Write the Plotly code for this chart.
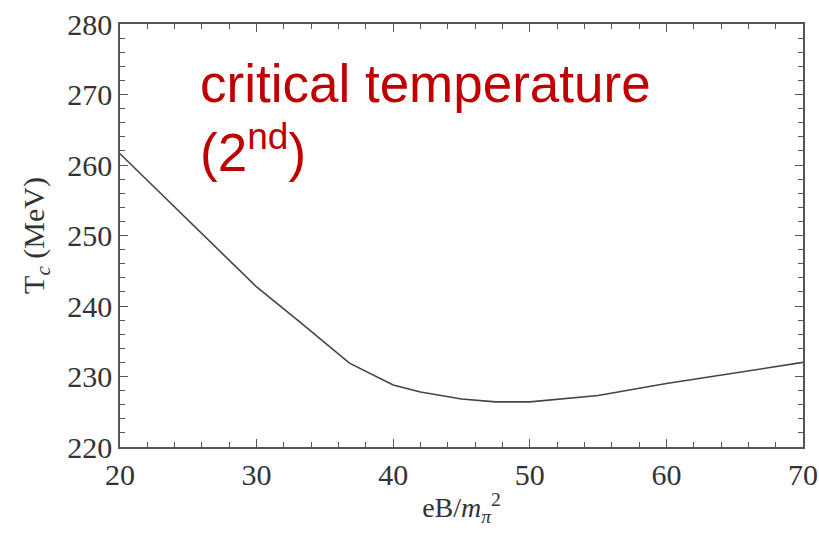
import plotly.graph_objects as go

eB = [20, 25, 30, 33, 36.8, 40, 42, 45, 47.5, 50, 52.5, 55, 60, 65, 70]
Tc = [261.6, 252.2, 242.7, 238.0, 231.9, 228.8, 227.8, 226.8, 226.4, 226.4, 226.8, 227.3, 229.0, 230.5, 232.0]

x_ticks = [20, 30, 40, 50, 60, 70]
y_ticks = [220, 230, 240, 250, 260, 270, 280]

fig = go.Figure()
fig.add_trace(go.Scatter(x=eB, y=Tc, mode="lines",
                         line=dict(color="#444444", width=1.6), showlegend=False))

axis_common = dict(
    showline=True, linecolor="#555555", linewidth=1.6,
    ticks="inside", ticklen=8, tickwidth=1.4, tickcolor="#555555",
    mirror="ticks", showgrid=False, zeroline=False, automargin=False,
    tickfont=dict(family="Liberation Serif", size=30, color="#333333"),
    minor=dict(ticks="inside", ticklen=5, tickwidth=1.2, tickcolor="#555555", dtick=2, showgrid=False),
)

fig.update_xaxes(range=[20, 70], tickvals=x_ticks, ticktext=[str(v) for v in x_ticks],
                 title=dict(text="eB/<i>m</i><sub><i>π</i></sub><sup>2</sup>",
                            font=dict(family="Liberation Serif", size=28, color="#333333"),
                            standoff=8),
                 **axis_common)
fig.update_yaxes(range=[220, 280], tickvals=y_ticks, ticktext=[str(v) for v in y_ticks],
                 title=dict(text="T<sub><i>c</i></sub> (MeV)",
                            font=dict(family="Liberation Serif", size=30, color="#333333"),
                            standoff=14),
                 **axis_common)

label_font = dict(family="Liberation Sans", size=53, color="#C00000")
fig.add_annotation(x=25.7, y=276.0, xref="x", yref="y", xanchor="left", yanchor="top",
                   align="left", showarrow=False,
                   text="critical temperature<br>(2<sup>nd</sup>)", font=label_font)

fig.update_layout(width=819, height=540, margin=dict(l=120, r=16, t=24, b=93),
                  plot_bgcolor="white", paper_bgcolor="white")

fig.write_html("out.html")
